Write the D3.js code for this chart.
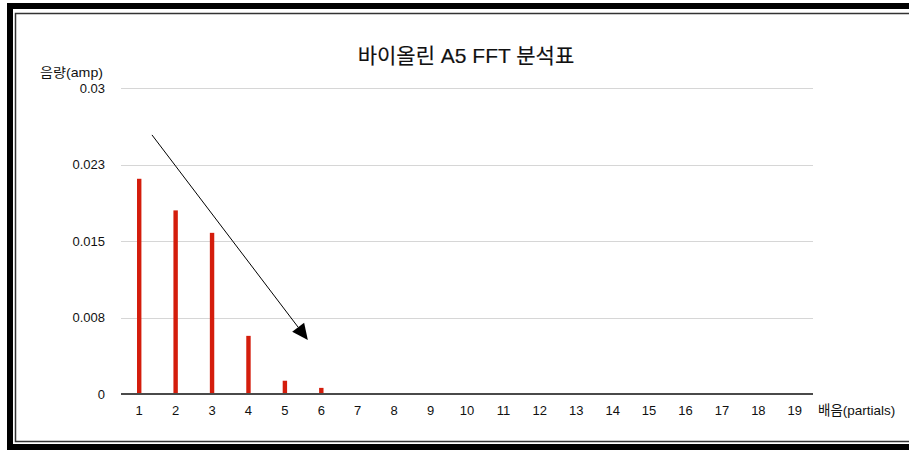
<!DOCTYPE html>
<html><head><meta charset="utf-8">
<script src="https://cdn.jsdelivr.net/npm/d3@7"></script>
<style>
html,body{margin:0;padding:0;background:#fff;}
svg{display:block;}
text{font-family:"Liberation Sans","Noto Sans CJK KR",Arial,sans-serif;fill:#111;}
</style></head>
<body>
<svg id="chart" width="909" height="450"></svg>
<script>
const title = "바이올린 A5 FFT 분석표";
const yTitle = "음량(amp)";
const xTitle = "배음(partials)";
const categories = [1,2,3,4,5,6,7,8,9,10,11,12,13,14,15,16,17,18,19];
const amplitudes = [0.0211,0.0180,0.0158,0.0057,0.0013,0.0006,0,0,0,0,0,0,0,0,0,0,0,0,0];
const yTickValues = [0,0.0075,0.015,0.0225,0.03];
const yTickLabels = ["0","0.008","0.015","0.023","0.03"];
// annotation arrow in data units: [partial, amplitude]
const arrowStart = [1.35,0.0254];
const arrowEnd = [5.63,0.0053];

(function(){
const svg = d3.select("#chart");
const mLeft=121,mRight=813,mTop=88,mBottom=394;

// frames
svg.append("rect").attr("x",10).attr("y",6).attr("width",930).attr("height",441)
  .attr("fill","none").attr("stroke","#000").attr("stroke-width",6);
svg.append("rect").attr("x",15.5).attr("y",13.5).attr("width",920).attr("height",428)
  .attr("fill","none").attr("stroke","#333").attr("stroke-width",1.5);

const x = d3.scaleBand().domain(categories).range([mLeft,mRight]).padding(0);
const y = d3.scaleLinear().domain([0,0.03]).range([mBottom,mTop]);

// grid
svg.append("g").selectAll("line").data(yTickValues.filter(v=>v>0)).join("line")
  .attr("x1",mLeft).attr("x2",mRight)
  .attr("y1",d=>Math.round(y(d))+0.5).attr("y2",d=>Math.round(y(d))+0.5)
  .attr("stroke","#d6d6d6").attr("stroke-width",1);

// y labels
svg.append("g").selectAll("text").data(yTickValues).join("text")
  .attr("x",105).attr("y",d=>y(d)).attr("dy","0.35em")
  .attr("text-anchor","end").attr("font-size",13)
  .text((d,i)=>yTickLabels[i]);

// bars
const bw = 4.4;
svg.append("g").selectAll("rect").data(categories.map((c,i)=>({c,v:amplitudes[i]})).filter(d=>d.v>0))
  .join("rect")
  .attr("x",d=>x(d.c)+x.bandwidth()/2-bw/2)
  .attr("y",d=>y(d.v))
  .attr("width",bw)
  .attr("height",d=>y(0)-y(d.v))
  .attr("fill","#d41d0c");

// baseline
svg.append("line").attr("x1",mLeft).attr("x2",mRight).attr("y1",y(0)).attr("y2",y(0))
  .attr("stroke","#4a4a4a").attr("stroke-width",2);

// x labels
svg.append("g").selectAll("text").data(categories).join("text")
  .attr("x",d=>x(d)+x.bandwidth()/2).attr("y",415)
  .attr("text-anchor","middle").attr("font-size",13)
  .text(d=>d);

// titles
svg.append("text").attr("x",466).attr("y",63).attr("text-anchor","middle")
  .attr("font-size",21).attr("stroke","#111").attr("stroke-width",0.15).text(title);
svg.append("text").attr("x",40).attr("y",77).attr("font-size",13)
  .attr("textLength",63).attr("lengthAdjust","spacingAndGlyphs").text(yTitle);
svg.append("text").attr("x",818).attr("y",415).attr("font-size",13.5).text(xTitle);

// arrow annotation
const xp = v => x(categories[0]) + x.bandwidth()/2 + (v-categories[0])*x.step();
const x1=xp(arrowStart[0]), y1=y(arrowStart[1]), x2=xp(arrowEnd[0]), y2=y(arrowEnd[1]);
const ang = Math.atan2(y2-y1,x2-x1);
const hl=16, hw=7.5;
const bx=x2-hl*Math.cos(ang), by=y2-hl*Math.sin(ang);
svg.append("line").attr("x1",x1).attr("y1",y1).attr("x2",bx).attr("y2",by)
  .attr("stroke","#000").attr("stroke-width",1);
svg.append("path").attr("d",`M${x2},${y2}L${bx+hw*Math.sin(ang)},${by-hw*Math.cos(ang)}L${bx-hw*Math.sin(ang)},${by+hw*Math.cos(ang)}Z`)
  .attr("fill","#000");
})();
</script>
</body></html>
